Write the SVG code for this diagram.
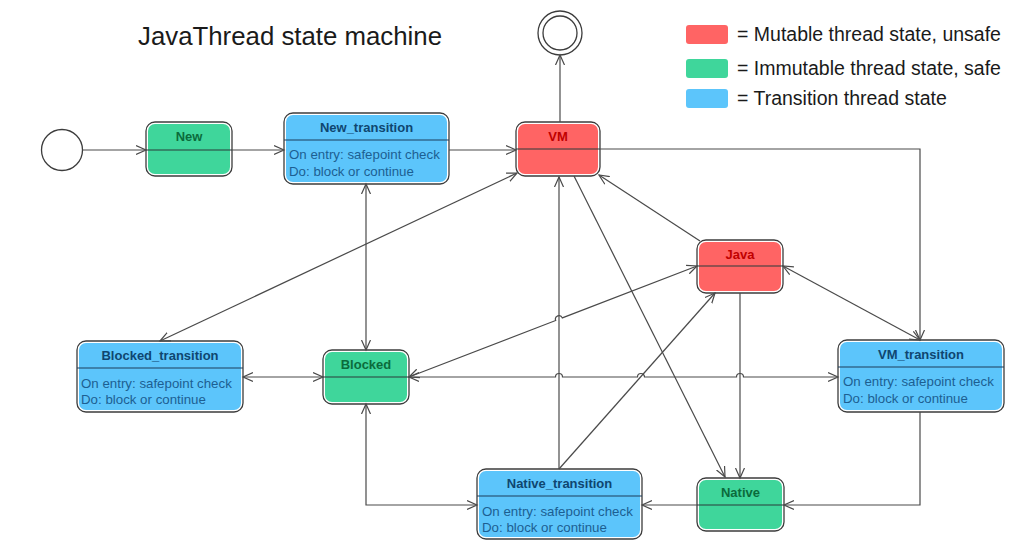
<svg xmlns="http://www.w3.org/2000/svg" width="1015" height="541" viewBox="0 0 1015 541">
<style>
text{font-family:"Liberation Sans",Arial,sans-serif}
.title{font-size:25.8px;fill:#1a1a1a}
.leg{font-size:19.5px;fill:#1a1a1a}
.nm{font-size:13px;font-weight:bold;text-anchor:middle}
.body{font-size:13.3px;fill:#1c5f92}
.g .nm{fill:#0b6b3b}
.r .nm{fill:#c00000}
.b .nm{fill:#0f4670}
.outer{fill:#ffffff;stroke:#3c3c3c;stroke-width:1.3}
.g .in{fill:#3fd69b}
.r .in{fill:#ff6464}
.b .in{fill:#5cc5fb}
.div{stroke:#2b3b3b;stroke-width:1.2}
.b .div{stroke:#1d3f5c}
.conn path{fill:none;stroke:#4a4a4a;stroke-width:1.2}
.circ{fill:#ffffff;stroke:#3c3c3c;stroke-width:1.3}
</style>
<defs>
<marker id="ah" markerUnits="userSpaceOnUse" markerWidth="12" markerHeight="12" refX="10" refY="5" orient="auto-start-reverse" viewBox="0 0 12 10">
<path d="M0,0.5 L10,5 L0,9.5" fill="none" stroke="#4a4a4a" stroke-width="1.2"/>
</marker>
</defs>
<rect width="1015" height="541" fill="#ffffff"/>
<text class="title" x="138" y="45">JavaThread state machine</text>

<g id="legend">
<rect x="686" y="25" width="42" height="19" rx="3" fill="#ff6464"/>
<text class="leg" x="737" y="41">= Mutable thread state, unsafe</text>
<rect x="686" y="59" width="42" height="19" rx="3" fill="#3fd69b"/>
<text class="leg" x="737" y="75">= Immutable thread state, safe</text>
<rect x="686" y="89" width="42" height="19" rx="3" fill="#5cc5fb"/>
<text class="leg" x="737" y="105">= Transition thread state</text>
</g>

<g id="start"><circle class="circ" cx="62" cy="150" r="20.5"/></g>
<g id="final"><circle class="circ" cx="560" cy="33" r="22"/><circle class="circ" cx="560" cy="33" r="17"/></g>

<g id="New" class="g">
<rect class="outer" x="146" y="122" width="86" height="54" rx="9"/>
<rect class="in" x="148" y="124" width="82" height="50" rx="7"/>
<line class="div" x1="146" y1="150" x2="232" y2="150"/>
<text class="nm" x="189" y="141">New</text>
</g>

<g id="New_transition" class="b">
<rect class="outer" x="284" y="113" width="165" height="71" rx="9"/>
<rect class="in" x="286" y="115" width="161" height="67" rx="7"/>
<line class="div" x1="284" y1="140" x2="449" y2="140"/>
<text class="nm" x="366.5" y="131.5">New_transition</text>
<text class="body" x="289" y="159">On entry: safepoint check</text>
<text class="body" x="289" y="176">Do: block or continue</text>
</g>

<g id="VM" class="r">
<rect class="outer" x="516" y="122" width="84" height="54" rx="9"/>
<rect class="in" x="518" y="124" width="80" height="50" rx="7"/>
<line class="div" x1="516" y1="149" x2="600" y2="149"/>
<text class="nm" x="558" y="141">VM</text>
</g>

<g id="Java" class="r">
<rect class="outer" x="697" y="240" width="86" height="53" rx="9"/>
<rect class="in" x="699" y="242" width="82" height="49" rx="7"/>
<line class="div" x1="697" y1="266" x2="783" y2="266"/>
<text class="nm" x="740" y="258.5">Java</text>
</g>

<g id="Blocked_transition" class="b">
<rect class="outer" x="77" y="341" width="166" height="71" rx="9"/>
<rect class="in" x="79" y="343" width="162" height="67" rx="7"/>
<line class="div" x1="77" y1="368" x2="243" y2="368"/>
<text class="nm" x="160" y="359.5">Blocked_transition</text>
<text class="body" x="81" y="387.5">On entry: safepoint check</text>
<text class="body" x="81" y="404">Do: block or continue</text>
</g>

<g id="Blocked" class="g">
<rect class="outer" x="323" y="350" width="86" height="54" rx="9"/>
<rect class="in" x="325" y="352" width="82" height="50" rx="7"/>
<line class="div" x1="323" y1="377" x2="409" y2="377"/>
<text class="nm" x="366" y="369">Blocked</text>
</g>

<g id="VM_transition" class="b">
<rect class="outer" x="838" y="340" width="166" height="72" rx="9"/>
<rect class="in" x="840" y="342" width="162" height="68" rx="7"/>
<line class="div" x1="838" y1="367" x2="1004" y2="367"/>
<text class="nm" x="921" y="358.5">VM_transition</text>
<text class="body" x="843" y="386">On entry: safepoint check</text>
<text class="body" x="843" y="402.5">Do: block or continue</text>
</g>

<g id="Native_transition" class="b">
<rect class="outer" x="477" y="469" width="165" height="70" rx="9"/>
<rect class="in" x="479" y="471" width="161" height="66" rx="7"/>
<line class="div" x1="477" y1="496" x2="642" y2="496"/>
<text class="nm" x="559.5" y="487.5">Native_transition</text>
<text class="body" x="482" y="515.5">On entry: safepoint check</text>
<text class="body" x="482" y="532">Do: block or continue</text>
</g>

<g id="Native" class="g">
<rect class="outer" x="697" y="478" width="87" height="53" rx="9"/>
<rect class="in" x="699" y="480" width="83" height="49" rx="7"/>
<line class="div" x1="697" y1="505" x2="784" y2="505"/>
<text class="nm" x="740.5" y="497">Native</text>
</g>

<g id="connectors" class="conn">
<path d="M82.5,150 L146,150" marker-end="url(#ah)"/>
<path d="M232,150 L284,150" marker-end="url(#ah)"/>
<path d="M449,150 L516,150" marker-end="url(#ah)"/>
<path d="M560,122 L560,55" marker-end="url(#ah)"/>
<path d="M600,149 L920,149 L920,340" marker-end="url(#ah)"/>
<path d="M517,173 L160,341" marker-start="url(#ah)" marker-end="url(#ah)"/>
<path d="M366,184 L366,350" marker-start="url(#ah)" marker-end="url(#ah)"/>
<path d="M700,241 L599,175" marker-end="url(#ah)"/>
<path d="M574,176 L725,477" marker-end="url(#ah)"/>
<path d="M559,469 L559,177" marker-end="url(#ah)"/>
<path d="M559,469 L715,293" marker-end="url(#ah)"/>
<path d="M409,377 L555.7,320.5 A3.5,3.5 0 0 1 562.3,317.9 L697,266" marker-start="url(#ah)" marker-end="url(#ah)"/>
<path d="M783,266 L920,340" marker-start="url(#ah)" marker-end="url(#ah)"/>
<path d="M740,293 L740,478" marker-end="url(#ah)"/>
<path d="M243,377 L323,377" marker-start="url(#ah)" marker-end="url(#ah)"/>
<path d="M409,377 L555.5,377 A3.5,3.5 0 0 1 562.5,377 L637.5,377 A3.5,3.5 0 0 1 644.5,377 L736.5,377 A3.5,3.5 0 0 1 743.5,377 L838,377" marker-start="url(#ah)" marker-end="url(#ah)"/>
<path d="M366,404 L366,505 L477,505" marker-start="url(#ah)" marker-end="url(#ah)"/>
<path d="M920,412 L920,505 L784,505" marker-end="url(#ah)"/>
<path d="M697,505 L642,505" marker-end="url(#ah)"/>
</g>
</svg>
